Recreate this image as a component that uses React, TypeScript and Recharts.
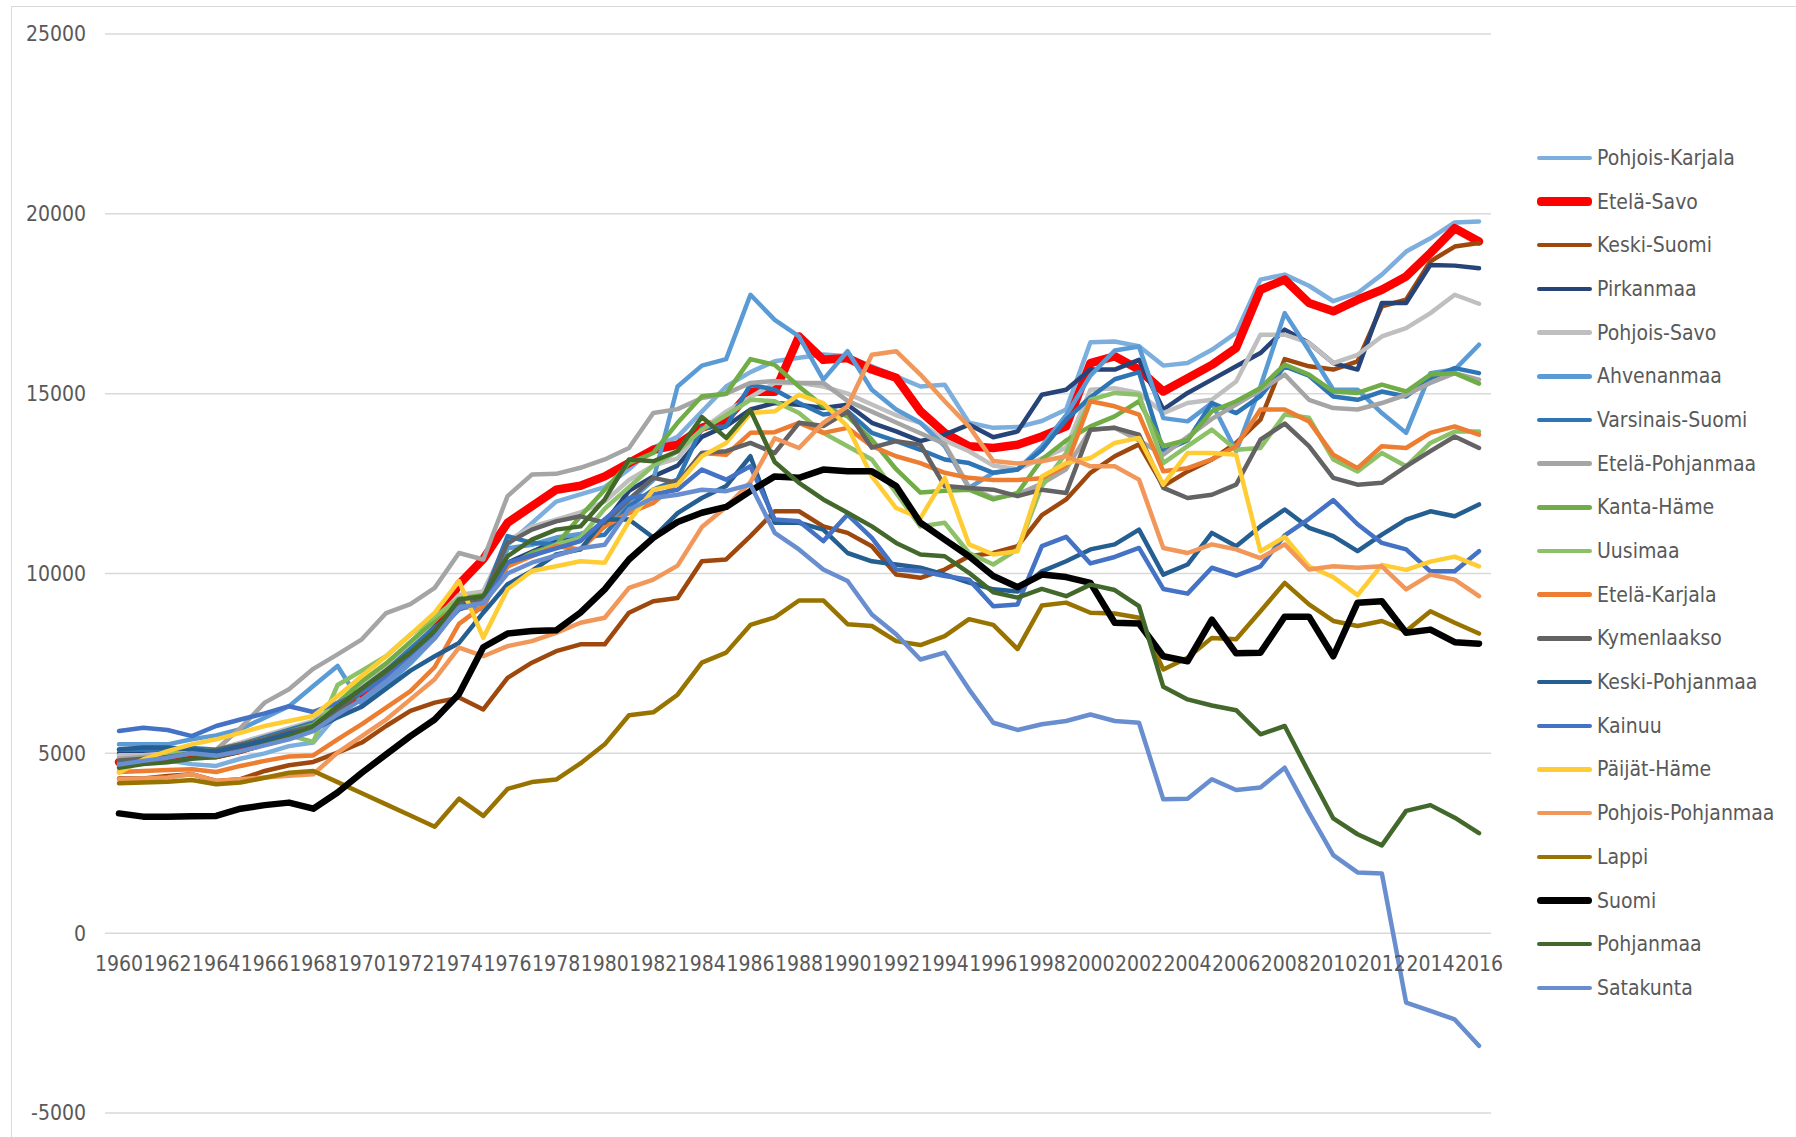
import { LineChart, Line, XAxis, YAxis, CartesianGrid } from 'recharts';

const years = [
  '1960', '1961', '1962', '1963', '1964', '1965', '1966', '1967', '1968', '1969',
  '1970', '1971', '1972', '1973', '1974', '1975', '1976', '1977', '1978', '1979',
  '1980', '1981', '1982', '1983', '1984', '1985', '1986', '1987', '1988', '1989',
  '1990', '1991', '1992', '1993', '1994', '1995', '1996', '1997', '1998', '1999',
  '2000', '2001', '2002', '2003', '2004', '2005', '2006', '2007', '2008', '2009',
  '2010', '2011', '2012', '2013', '2014', '2015', '2016',
];

const yTicks = [-5000, 0, 5000, 10000, 15000, 20000, 25000];

const pohjoisKarjala = [
  4900, 4850, 4800, 4700, 4650, 4850, 5000, 5200, 5300, 6100,
  6600, 7200, 7800, 8500, 9300, 9500, 10800, 11400, 12000, 12200,
  12400, 12900, 13500, 13800, 14500, 15200, 15600, 15900, 16000, 16090,
  16040, 15760, 15480, 15200, 15250, 14190, 14050, 14070, 14240, 14560,
  16430, 16450, 16320, 15780, 15850, 16220, 16690, 18170, 18310, 18000,
  17570, 17800, 18310, 18950, 19320, 19760, 19790,
];
const etelaSavo = [
  4760, 4800, 4850, 4950, 4950, 5100, 5300, 5500, 5700, 6200,
  6700, 7200, 7800, 8600, 9700, 10400, 11410, 11870, 12330, 12440,
  12700, 13070, 13440, 13580, 14050, 14280, 15050, 15050, 16590, 15940,
  15990, 15670, 15440, 14510, 13910, 13540, 13490, 13580, 13810, 14090,
  15850, 16040, 15670, 15060, 15430, 15800, 16270, 17890, 18170, 17520,
  17290, 17610, 17890, 18260, 18910, 19600, 19230,
];
const keskiSuomi = [
  4300, 4300, 4370, 4420, 4230, 4280, 4510, 4670, 4760, 5020,
  5300, 5760, 6180, 6410, 6550, 6220, 7100, 7520, 7840, 8030,
  8030, 8910, 9230, 9320, 10340, 10390, 11040, 11730, 11730, 11310,
  11130, 10760, 9970, 9880, 10110, 10480, 10570, 10760, 11620, 12060,
  12800, 13260, 13590, 12430, 12840, 13170, 13630, 14280, 15960, 15760,
  15670, 15900, 17430, 17610, 18680, 19090, 19190,
];
const pirkanmaa = [
  5000, 5000, 5050, 5100, 5050, 5200, 5400, 5600, 5800, 6300,
  6800, 7300, 7900, 8500, 9100, 9300, 10300, 10600, 10900, 11000,
  11400, 12300, 12700, 13000, 13800, 14100, 14560, 14740, 14690, 14600,
  14690, 14190, 13950, 13680, 13860, 14140, 13790, 13950, 14970, 15110,
  15670, 15670, 15940, 14560, 15020, 15390, 15760, 16130, 16780, 16410,
  15850, 15670, 17520, 17520, 18580, 18560, 18490,
];
const pohjoisSavo = [
  4950, 4950, 5000, 5050, 5100, 5300, 5500, 5700, 5900, 6400,
  6900, 7400, 8000, 8700, 9400, 9500, 10900, 11300, 11500, 11700,
  12000, 12600, 13000, 13200, 14000, 14500, 14900, 15300, 15300, 15200,
  15000, 14700, 14400, 14190, 13700, 13400, 13000, 12900, 13200, 13500,
  15110, 15150, 15020, 14460, 14740, 14830, 15340, 16640, 16640, 16410,
  15850, 16080, 16590, 16820, 17240, 17750, 17500,
];
const ahvenanmaa = [
  5250, 5250, 5250, 5390, 5500, 5670, 5990, 6310, 6870, 7430,
  6360, 6900, 7500, 8200, 9100, 9000, 10700, 10800, 11000, 11100,
  11300, 12000, 12600, 15200, 15780, 15960, 17750, 17050, 16590, 15390,
  16180, 15110, 14560, 14190, 13540, 12380, 12800, 12890, 13540, 14400,
  15500, 16200, 16310, 14320, 14230, 14740, 13400, 15200, 17240, 16200,
  15110, 15110, 14460, 13910, 15570, 15670, 16360,
];
const varsinaisSuomi = [
  5100, 5100, 5100, 5150, 5100, 5250, 5450, 5650, 5850, 6300,
  6800, 7300, 7900, 8500, 9000, 9300, 11040, 10850, 10810, 10990,
  11080, 11870, 12330, 12610, 14050, 14090, 15250, 15110, 14740, 14420,
  14510, 13910, 13680, 13440, 13170, 13070, 12800, 12890, 13440, 14280,
  14900, 15400, 15600, 13400, 13700, 14740, 14460, 14930, 15760, 15500,
  14920, 14830, 15060, 14920, 15430, 15710, 15570,
];
const etelaPohjanmaa = [
  4850, 4900, 4950, 5000, 5100, 5700, 6410, 6780, 7350, 7750,
  8170, 8900, 9150, 9600, 10570, 10390, 12150, 12750, 12770, 12940,
  13170, 13490, 14460, 14570, 14880, 15000, 15300, 15350, 15300, 15300,
  14800, 14500, 14200, 13900, 13600, 12400, 12100, 12200, 12500, 12900,
  14000, 14050, 13700, 13300, 13800, 14300, 14700, 15100, 15530, 14830,
  14600, 14560, 14740, 14970, 15300, 15570, 15390,
];
const kantaHame = [
  4750, 4800, 4900, 5000, 5050, 5200, 5400, 5600, 5800, 6400,
  7000, 7500, 8100, 8700, 9300, 9400, 10200, 10570, 10800, 11590,
  12330, 13070, 13350, 14190, 14930, 15000, 15960, 15800, 15200, 14650,
  14370, 13720, 12900, 12250, 12300, 12330, 12060, 12240, 13170, 13700,
  14090, 14370, 14790, 13540, 13720, 14510, 14790, 15160, 15810, 15530,
  15060, 15020, 15250, 15060, 15530, 15570, 15280,
];
const uusimaa = [
  4800, 4850, 4950, 5050, 5100, 5250, 5400, 5500, 5320, 6900,
  7300, 7700, 8300, 8800, 9300, 9200, 10200, 10500, 10800, 11000,
  11800, 12400, 13000, 13400, 14000, 14400, 14830, 14790, 14460, 13910,
  13540, 13170, 12240, 11310, 11410, 10570, 10250, 10670, 12430, 13350,
  14830, 15020, 14970, 13070, 13540, 14000, 13440, 13490, 14420, 14330,
  13170, 12840, 13350, 12980, 13630, 13950, 13950,
];
const etelaKarjala = [
  4480, 4510, 4540, 4560, 4480, 4650, 4790, 4910, 4940, 5390,
  5810, 6270, 6730, 7400, 8600, 9100, 10200, 10480, 10760, 10670,
  11310, 11680, 11960, 12520, 13350, 13300, 13910, 13930, 14190, 13910,
  14050, 13540, 13260, 13070, 12800, 12660, 12600, 12600, 12650, 13000,
  14790, 14650, 14420, 12840, 12930, 13170, 13540, 14560, 14560, 14230,
  13300, 12930, 13540, 13490, 13910, 14090, 13860,
];
const kymenlaakso = [
  4800, 4850, 4900, 5000, 5100, 5250, 5400, 5600, 5750, 6200,
  6700, 7200, 7800, 8400, 9200, 9300, 10850, 11220, 11450, 11590,
  11410, 12060, 12660, 12520, 13350, 13400, 13630, 13350, 14190, 14100,
  14500, 13500, 13680, 13580, 12430, 12380, 12330, 12150, 12330, 12240,
  14000, 14050, 13860, 12380, 12100, 12190, 12470, 13720, 14170, 13540,
  12660, 12470, 12520, 12980, 13400, 13810, 13490,
];
const keskiPohjanmaa = [
  5110, 5160, 5160, 5110, 5050, 5200, 5350, 5550, 5650, 6000,
  6300, 6800, 7300, 7700, 8070, 8910, 9700, 10070, 10530, 10670,
  11500, 11500, 11000, 11680, 12100, 12430, 13260, 11410, 11410, 11220,
  10570, 10340, 10250, 10160, 9970, 9750, 9560, 9500, 10060, 10340,
  10670, 10810, 11220, 9970, 10250, 11130, 10760, 11310, 11780, 11270,
  11040, 10620, 11080, 11500, 11730, 11590, 11920,
];
const kainuu = [
  5620, 5710, 5650, 5480, 5760, 5940, 6110, 6310, 6150, 6400,
  6700, 7100, 7700, 8300, 9000, 9200, 10300, 10500, 10700, 10900,
  11500, 12100, 12200, 12330, 12890, 12610, 12980, 11500, 11450, 10900,
  11640, 10990, 10110, 10070, 9930, 9830, 9090, 9140, 10760, 11020,
  10280, 10460, 10710, 9570, 9440, 10160, 9940, 10200, 11060, 11520,
  12040, 11370, 10850, 10670, 10060, 10060, 10620,
];
const paijatHame = [
  4460, 4830, 5060, 5250, 5390, 5570, 5760, 5900, 6040, 6590,
  7150, 7700, 8300, 8910, 9790, 8210, 9560, 10070, 10200, 10340,
  10300, 11450, 12330, 12470, 13260, 13630, 14460, 14510, 14970, 14740,
  14090, 12700, 11820, 11540, 12660, 10810, 10530, 10620, 12700, 13070,
  13210, 13630, 13770, 12470, 13350, 13350, 13300, 10620, 11020, 10200,
  9900, 9400, 10240, 10100, 10330, 10470, 10200,
];
const pohjoisPohjanmaa = [
  4280, 4300, 4330, 4420, 4230, 4280, 4330, 4380, 4420, 5020,
  5480, 5940, 6500, 7060, 7940, 7700, 7980, 8120, 8350, 8630,
  8770, 9600, 9830, 10220, 11290, 11850, 12540, 13760, 13490, 14190,
  14650, 16080, 16180, 15530, 14790, 14090, 13130, 13060, 13120, 13260,
  12980, 12980, 12610, 10710, 10570, 10810, 10670, 10430, 10810, 10110,
  10200, 10160, 10200, 9560, 9970, 9830, 9370,
];
const lappi = [
  4170, 4190, 4210, 4260, 4140, 4190, 4320, 4460, 4510, 4200,
  3890, 3580, 3270, 2960, 3740, 3260, 4010, 4200, 4270, 4720,
  5250, 6060, 6140, 6630, 7520, 7800, 8570, 8780, 9250, 9250,
  8590, 8540, 8120, 8010, 8260, 8730, 8570, 7900, 9110, 9190,
  8910, 8890, 8770, 7330, 7660, 8210, 8170, 8950, 9740, 9140,
  8680, 8540, 8680, 8400, 8950, 8630, 8330,
];
const suomi = [
  3330, 3240, 3240, 3250, 3260, 3460, 3560, 3630, 3460, 3910,
  4460, 4970, 5480, 5940, 6650, 7950, 8330, 8400, 8420, 8910,
  9560, 10390, 10990, 11430, 11690, 11850, 12290, 12700, 12660, 12890,
  12840, 12840, 12430, 11410, 10940, 10480, 9930, 9620, 9970, 9900,
  9740, 8630, 8610, 7700, 7560, 8720, 7780, 7800, 8800, 8800,
  7700, 9190, 9230, 8350, 8440, 8090, 8050,
];
const pohjanmaa = [
  4600, 4700, 4750, 4850, 4900, 5050, 5250, 5450, 5750, 6300,
  6800, 7300, 7800, 8400, 9280, 9370, 10480, 10940, 11220, 11310,
  12060, 13170, 13120, 13400, 14350, 13770, 14540, 13100, 12520, 12060,
  11690, 11310, 10850, 10530, 10480, 10020, 9480, 9330, 9570, 9370,
  9690, 9540, 9090, 6850, 6500, 6330, 6200, 5530, 5760, 4460,
  3190, 2750, 2440, 3400, 3560, 3210, 2780,
];
const satakunta = [
  4690, 4790, 4880, 5000, 4930, 5060, 5220, 5390, 5620, 6080,
  6500, 7000, 7600, 8200, 9050, 9180, 10000, 10300, 10500, 10700,
  10800, 11780, 12100, 12190, 12330, 12290, 12470, 11130, 10670, 10110,
  9790, 8860, 8310, 7610, 7800, 6780, 5850, 5650, 5810, 5900,
  6080, 5900, 5850, 3720, 3740, 4280, 3980, 4050, 4600, 3350,
  2170, 1690, 1660, -1930, -2160, -2400, -3130,
];

const seriesNames = [
  'Pohjois-Karjala', 'Etelä-Savo', 'Keski-Suomi', 'Pirkanmaa', 'Pohjois-Savo',
  'Ahvenanmaa', 'Varsinais-Suomi', 'Etelä-Pohjanmaa', 'Kanta-Häme', 'Uusimaa',
  'Etelä-Karjala', 'Kymenlaakso', 'Keski-Pohjanmaa', 'Kainuu', 'Päijät-Häme',
  'Pohjois-Pohjanmaa', 'Lappi', 'Suomi', 'Pohjanmaa', 'Satakunta',
];
const seriesValues = [
  pohjoisKarjala, etelaSavo, keskiSuomi, pirkanmaa, pohjoisSavo,
  ahvenanmaa, varsinaisSuomi, etelaPohjanmaa, kantaHame, uusimaa,
  etelaKarjala, kymenlaakso, keskiPohjanmaa, kainuu, paijatHame,
  pohjoisPohjanmaa, lappi, suomi, pohjanmaa, satakunta,
];

// styling, same order as seriesNames
const colors = [
  '#7CAFDD', '#FF0000', '#9E480E', '#264478', '#BFBFBF',
  '#5B9BD5', '#2E75B6', '#A5A5A5', '#70AD47', '#8CC168',
  '#ED7D31', '#636363', '#255E91', '#4472C4', '#FFCD33',
  '#F1975A', '#997300', '#000000', '#43682B', '#698ED0',
];
const widthOf = (name: string) => (name === 'Etelä-Savo' ? 8.5 : name === 'Suomi' ? 6.5 : 4.5);

const data = years.map((year, i) => {
  const row: Record<string, string | number> = { year };
  seriesNames.forEach((name, s) => {
    row[name] = seriesValues[s][i];
  });
  return row;
});

const FONT = '"DejaVu Sans Condensed", "Liberation Sans Narrow", sans-serif';
const TEXT = '#595959';
const W = 1796;
const H = 1137;
const X_AXIS_H = 1;
const MARGIN = { top: 34, right: 305, bottom: 24 - X_AXIS_H, left: 0 };
const Y_MIN = -5000;
const Y_MAX = 25000;
const PLOT_H = H - MARGIN.top - MARGIN.bottom - X_AXIS_H;
// category labels sit under the zero line, like Excel does
const ZERO_Y = MARGIN.top + (PLOT_H * Y_MAX) / (Y_MAX - Y_MIN);

const YearTick = (props: any) => {
  const { x, payload } = props;
  return (
    <text x={x} y={ZERO_Y + 38} textAnchor="middle" fill={TEXT} fontSize={21} fontFamily={FONT} style={{ fontStretch: 'condensed' }}>
      {payload.value}
    </text>
  );
};

const ChartLegend = () => (
  <div style={{ position: 'absolute', left: 1537, top: 136, fontFamily: FONT, fontStretch: 'condensed', fontSize: 21, color: TEXT }}>
    {seriesNames.map((name, i) => (
      <div key={name} style={{ height: 43.7, display: 'flex', alignItems: 'center' }}>
        <div style={{ width: 55, height: widthOf(name), borderRadius: 4, background: colors[i], marginRight: 5 }} />
        <span>{name}</span>
      </div>
    ))}
  </div>
);

export default function App() {
  return (
    <div style={{ position: 'absolute', left: 0, top: 0, width: W, height: H, overflow: 'hidden', background: '#fff' }}>
      <div style={{ position: 'absolute', left: 11, top: 6, width: 1820, height: 1200, border: '1px solid #D9D9D9' }} />
      <div style={{ position: 'absolute', left: 0, top: 0 }}>
        <LineChart width={W} height={H} data={data} margin={MARGIN}>
          <CartesianGrid vertical={false} stroke="#D9D9D9" strokeWidth={1.5} />
          <XAxis
            dataKey="year"
            height={X_AXIS_H}
            axisLine={false}
            tickLine={false}
            interval={1}
            padding={{ left: 14, right: 12 }}
            tick={YearTick}
          />
          <YAxis
            width={105}
            domain={[Y_MIN, Y_MAX]}
            ticks={yTicks}
            interval={0}
            axisLine={false}
            tickLine={false}
            tickMargin={13}
            tick={{ fill: TEXT, fontSize: 21, fontFamily: FONT, style: { fontStretch: 'condensed' } }}
          />
          {seriesNames.map((name, i) => (
            <Line
              key={name}
              type="linear"
              dataKey={name}
              stroke={colors[i]}
              strokeWidth={widthOf(name)}
              strokeLinejoin="round"
              strokeLinecap="round"
              dot={false}
              isAnimationActive={false}
            />
          ))}
        </LineChart>
      </div>
      <ChartLegend />
    </div>
  );
}
